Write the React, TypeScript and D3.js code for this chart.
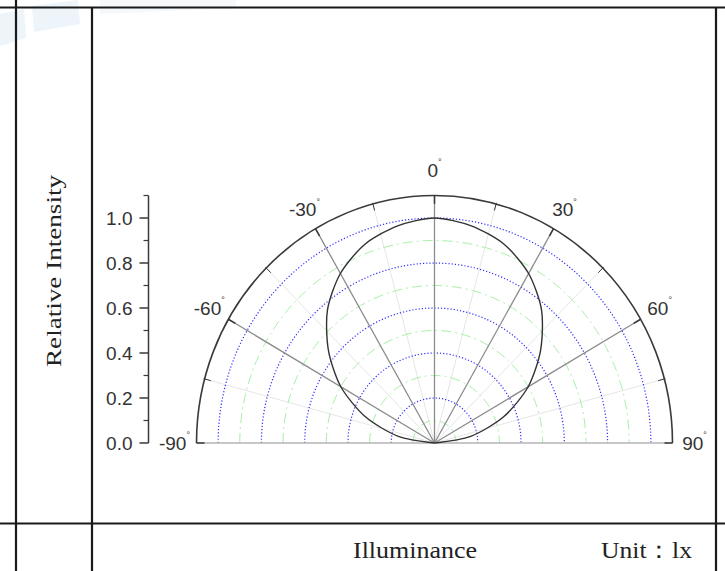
import React from "react";
import * as d3 from "d3";

// ---- data ----
const angles = [-90, -80, -70, -60, -50, -40, -30, -20, -10, 0, 10, 20, 30, 40, 50, 60, 70, 80, 90];
const intensity = [0, 0.17, 0.34, 0.5, 0.64, 0.77, 0.87, 0.94, 0.98, 1.0, 0.98, 0.94, 0.87, 0.77, 0.64, 0.5, 0.34, 0.17, 0];
const majorAngleTicks = [-90, -60, -30, 0, 30, 60, 90];
const minorAngleTicks = [-75, -45, -15, 15, 45, 75];
const majorRadii = [0.2, 0.4, 0.6, 0.8, 1.0];
const minorRadii = [0.1, 0.3, 0.5, 0.7, 0.9];
const yTicks = [0, 0.2, 0.4, 0.6, 0.8, 1.0];
const yMinorTicks = [0.1, 0.3, 0.5, 0.7, 0.9, 1.1];
const yAxisTitle = "Relative Intensity";
const footerLabel = "Illuminance";
const footerUnit = "Unit\uFF1Alx";

const W = 725;
const H = 571;
const cx = 434.5;
const cy = 443;
const rMax = 1.1;
const rx = d3.scaleLinear().domain([0, rMax]).range([0, 238]);
const ry = d3.scaleLinear().domain([0, rMax]).range([0, 247.5]);
const yScale = d3.scaleLinear().domain([0, rMax]).range([cy, cy - 247.5]);
const rad = (deg: number) => (deg * Math.PI) / 180;
const px = (deg: number, r: number) => cx + rx(r) * Math.sin(rad(deg));
const py = (deg: number, r: number) => cy - ry(r) * Math.cos(rad(deg));

const semi = (r: number) =>
  `M ${cx - rx(r)} ${cy} A ${rx(r)} ${ry(r)} 0 0 1 ${cx + rx(r)} ${cy}`;

const curveLine = d3
  .line<number>()
  .x((_, i) => px(angles[i], intensity[i]))
  .y((_, i) => py(angles[i], intensity[i]))
  .curve(d3.curveCardinal.tension(0.2));

const AX = "#3a3a3a";
const LABEL_FONT = "Arial, 'Liberation Sans', sans-serif";
const SERIF = "'Times New Roman', 'Liberation Serif', serif";

export default function App() {
  const axisX = 148.5;
  return (
    <svg
      width={W}
      height={H}
      style={{ position: "absolute", left: 0, top: 0, background: "#fff" }}
    >
      <rect x={0} y={0} width={W} height={H} fill="#fff" />
      {/* faint watermark */}
      <g fill="#e6f0f9" opacity={0.7}>
        <polygon points="0,14 24,9 26,38 0,46" />
        <polygon points="32,6 78,0 80,24 34,32" />
        <polygon points="100,0 236,0 236,8 100,14" opacity={0.5} />
      </g>

      {/* table lines */}
      <g stroke="#1a1a1a" strokeWidth={2.2}>
        <line x1={0} y1={7.5} x2={W} y2={7.5} />
        <line x1={0} y1={523.5} x2={W} y2={523.5} />
        <line x1={16} y1={0} x2={16} y2={H} />
        <line x1={92} y1={7.5} x2={92} y2={H} />
        <line x1={716} y1={7.5} x2={716} y2={H} />
      </g>

      {/* minor spokes */}
      {minorAngleTicks.map((a) => (
        <line key={"ms" + a} x1={cx} y1={cy} x2={px(a, rMax)} y2={py(a, rMax)} stroke="#e6e6e6" strokeWidth={1} />
      ))}

      {/* minor grid circles (green dash-dot) */}
      {minorRadii.map((r) => (
        <path key={"mg" + r} d={semi(r)} fill="none" stroke="#a8f0a8" strokeWidth={1} strokeDasharray="10,4,2,4" />
      ))}
      {/* major grid circles (blue dotted) */}
      {majorRadii.map((r) => (
        <path key={"Mg" + r} d={semi(r)} fill="none" stroke="#2d2dff" strokeWidth={1.2} strokeDasharray="1.2,2" />
      ))}

      {/* major spokes */}
      {majorAngleTicks
        .filter((a) => Math.abs(a) < 90)
        .map((a) => (
          <line key={"s" + a} x1={cx} y1={cy} x2={px(a, rMax)} y2={py(a, rMax)} stroke="#8c8c8c" strokeWidth={1.3} />
        ))}

      {/* baseline */}
      <line x1={px(-90, rMax)} y1={cy} x2={px(90, rMax)} y2={cy} stroke="#b4b4b4" strokeWidth={1.6} />

      {/* data curve */}
      <path d={curveLine(intensity) || ""} fill="none" stroke="#333" strokeWidth={1.4} />

      {/* outer arc */}
      <path d={semi(rMax)} fill="none" stroke={AX} strokeWidth={1.6} />
      {/* outer arc ticks */}
      {majorAngleTicks.map((a) => (
        <line key={"t" + a} x1={px(a, rMax)} y1={py(a, rMax)} x2={px(a, rMax - 0.037)} y2={py(a, rMax - 0.037)} stroke={AX} strokeWidth={1.5} />
      ))}
      {minorAngleTicks.map((a) => (
        <line key={"mt" + a} x1={px(a, rMax + 0.005)} y1={py(a, rMax + 0.005)} x2={px(a, rMax - 0.03)} y2={py(a, rMax - 0.03)} stroke={AX} strokeWidth={1} />
      ))}

      {/* angle labels */}
      {majorAngleTicks.map((a) => {
        const off = 22;
        const x = px(a, rMax) + off * Math.sin(rad(a));
        const y = py(a, rMax) - off * Math.cos(rad(a)) * (a === 0 ? 1.15 : 1);
        return (
          <text
            key={"al" + a}
            x={x}
            y={y}
            textAnchor="middle"
            dominantBaseline="central"
            fontFamily={LABEL_FONT}
            fontSize={19}
            fill="#333"
          >
            {String(a)}
            <tspan fontSize={9} dy={-8}>°</tspan>
          </text>
        );
      })}

      {/* y axis */}
      <line x1={axisX} y1={yScale(0)} x2={axisX} y2={yScale(rMax)} stroke={AX} strokeWidth={1.5} />
      {yTicks.map((v) => (
        <g key={"yt" + v}>
          <line x1={axisX - 9} y1={yScale(v)} x2={axisX} y2={yScale(v)} stroke={AX} strokeWidth={1.5} />
          <text
            x={axisX - 16}
            y={yScale(v)}
            textAnchor="end"
            dominantBaseline="central"
            fontFamily={LABEL_FONT}
            fontSize={19}
            fill="#333"
          >
            {d3.format(".1f")(v)}
          </text>
        </g>
      ))}
      {yMinorTicks.map((v) => (
        <line key={"ymt" + v} x1={axisX - 5} y1={yScale(v)} x2={axisX} y2={yScale(v)} stroke={AX} strokeWidth={1.2} />
      ))}

      {/* y axis title */}
      <text
        transform={`translate(61,271) rotate(-90)`}
        textAnchor="middle"
        fontFamily={SERIF}
        fontSize={22}
        fill="#222"
        textLength={192}
        lengthAdjust="spacingAndGlyphs"
      >
        {yAxisTitle}
      </text>

      {/* footer */}
      <text x={353} y={558} fontFamily={SERIF} fontSize={24} fill="#222" textLength={124} lengthAdjust="spacingAndGlyphs">
        {footerLabel}
      </text>
      <text x={601} y={558} fontFamily={SERIF} fontSize={24} fill="#222" textLength={91} lengthAdjust="spacingAndGlyphs">
        {footerUnit}
      </text>
    </svg>
  );
}
